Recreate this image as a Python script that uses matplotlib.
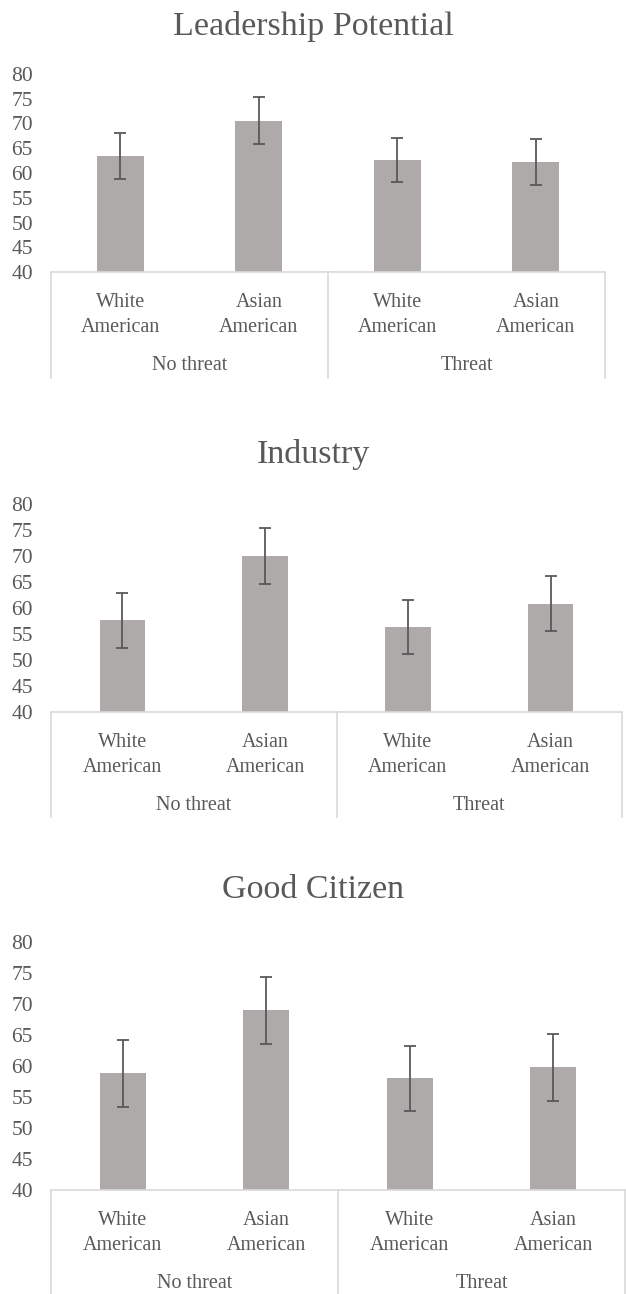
"""
Three stacked bar charts (Leadership / Industry / Good Citizen) with
grouped category labels, Excel-style.
"""

import matplotlib

matplotlib.use("Agg")
import matplotlib.pyplot as plt
import matplotlib.transforms as mtransforms
import numpy as np

plt.rcParams["font.family"] = ["Liberation Serif", "DejaVu Serif"]

# --- data ---------------------------------------------------------------
categories = ["White\nAmerican", "Asian\nAmerican", "White\nAmerican", "Asian\nAmerican"]
groups = ["No threat", "Threat"]
group_sizes = [2, 2]

titles = ["Leadership Potential", "Industry", "Good Citizen"]

leadership_means = [63.4, 70.6, 62.6, 62.3]
leadership_err = [4.7, 4.7, 4.5, 4.65]

industry_means = [57.6, 70.0, 56.4, 60.8]
industry_err = [5.2, 5.3, 5.15, 5.3]

citizen_means = [58.8, 69.0, 58.0, 59.8]
citizen_err = [5.35, 5.4, 5.25, 5.4]

y_ticks = [40, 45, 50, 55, 60, 65, 70, 75, 80]

# --- layout (pixels) ----------------------------------------------------
W, H = 626, 1294
# left, top, right, bottom of plot area; title y; label rows; line end
panels = [
    dict(box=(51, 74, 605, 272), title_y=27, cat_y=315, grp_y=366, line_end=378, width=0.34),
    dict(box=(51, 504, 622, 712), title_y=455, cat_y=755, grp_y=805, line_end=817, width=0.32),
    dict(box=(51, 942, 625, 1190), title_y=890, cat_y=1233, grp_y=1284, line_end=1294, width=0.32),
]

bar_color = "#AEAAAA"
err_color = "#595959"
text_color = "#595959"
axis_color = "#D9D9D9"

series = [
    (leadership_means, leadership_err),
    (industry_means, industry_err),
    (citizen_means, citizen_err),
]

fig = plt.figure(figsize=(W / 100, H / 100), dpi=100)

for title, (means, errs), p in zip(titles, series, panels):
    l, t, r, b = p["box"]
    ax = fig.add_axes([l / W, 1 - b / H, (r - l) / W, (b - t) / H])
    x = np.arange(len(categories))
    ax.bar(x, means, width=p["width"], color=bar_color, zorder=2)
    ax.errorbar(
        x, means, yerr=errs, fmt="none", ecolor=err_color,
        elinewidth=1.3, capsize=4, capthick=1.3, zorder=3,
    )
    ax.set_xlim(-0.5, len(categories) - 0.5)
    ax.set_ylim(40, 80)
    ax.set_yticks(y_ticks)
    ax.tick_params(axis="y", length=0, pad=13, labelsize=15.5, labelcolor=text_color)
    ax.set_xticks([])
    for side in ["left", "right", "top"]:
        ax.spines[side].set_visible(False)
    ax.spines["bottom"].set_color(axis_color)
    ax.spines["bottom"].set_linewidth(1.2)

    fig.text(0.5, 1 - p["title_y"] / H, title, ha="center", va="center",
             fontsize=24.5, color=text_color)

    trans = mtransforms.blended_transform_factory(ax.transData, fig.transFigure)
    for xi, cat in zip(x, categories):
        ax.text(xi, 1 - p["cat_y"] / H, cat, transform=trans, ha="center", va="center",
                fontsize=14.5, color=text_color, linespacing=1.4)

    # group labels and separators
    start = 0
    edges = [-0.5]
    for g, n in zip(groups, group_sizes):
        center = start + (n - 1) / 2
        ax.text(center, 1 - p["grp_y"] / H, g, transform=trans, ha="center", va="center",
                fontsize=14.5, color=text_color)
        start += n
        edges.append(start - 0.5)
    for e in edges:
        ax.plot([e, e], [1 - b / H, 1 - p["line_end"] / H], transform=trans,
                color=axis_color, lw=1.2, clip_on=False)

fig.savefig("out.png", dpi=100, facecolor="white")
